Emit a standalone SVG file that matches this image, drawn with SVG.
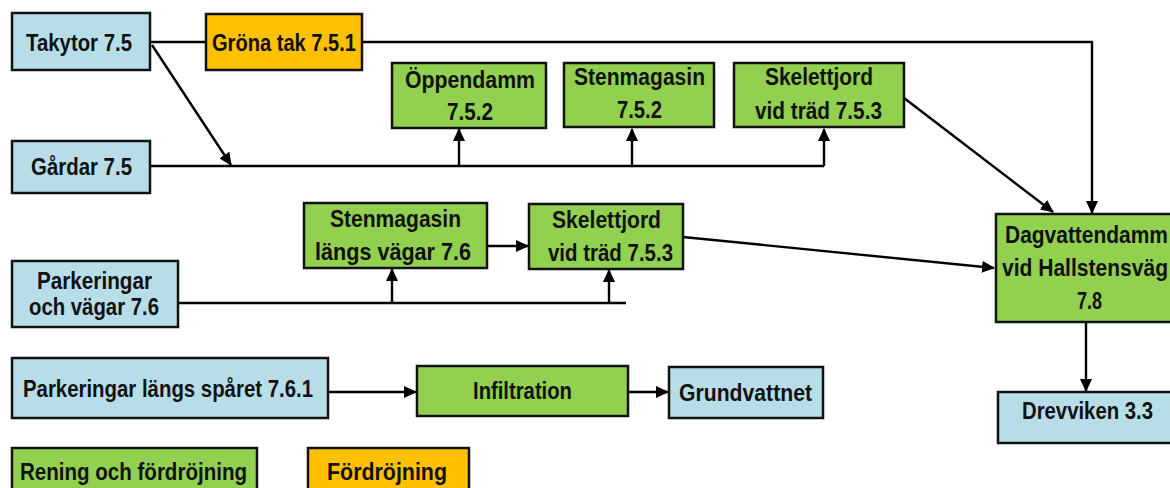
<svg xmlns="http://www.w3.org/2000/svg" width="1170" height="488" viewBox="0 0 1170 488">
<defs>
<marker id="ah" markerWidth="13" markerHeight="12" refX="12" refY="6" orient="auto" markerUnits="userSpaceOnUse">
<path d="M0,0 L13,6 L0,12 Z" fill="#000"/>
</marker>
<style>
.blue{fill:#B7DEE8;stroke:#111;stroke-width:2.5}
.green{fill:#92D050;stroke:#111;stroke-width:2.5}
.orange{fill:#FFC000;stroke:#111;stroke-width:2.5}
text{font-family:"Liberation Sans",Arial,sans-serif;font-weight:bold;font-size:24px;fill:#111}
.c{fill:none;stroke:#000;stroke-width:2.4}
.a{fill:none;stroke:#000;stroke-width:2.4;marker-end:url(#ah)}
</style>
</defs>
<rect width="1170" height="488" fill="#fff"/>
<g id="connectors">
<path class="c" d="M150,42 H206"/>
<path class="a" d="M362,42 H1092 V213"/>
<path class="a" d="M152,45 L231,165"/>
<path class="c" d="M150,166 H824"/>
<path class="a" d="M459,166 V129"/>
<path class="a" d="M632,166 V129"/>
<path class="a" d="M824,166 V129"/>
<path class="a" d="M904,98 L1053,212"/>
<path class="a" d="M487,246 H528"/>
<path class="c" d="M178,303 H626"/>
<path class="a" d="M392,303 V269"/>
<path class="a" d="M609,303 V270"/>
<path class="a" d="M683,237 L994,268"/>
<path class="a" d="M1086,323 V391"/>
<path class="a" d="M328,392 H416"/>
<path class="a" d="M628,392 H668"/>
</g>
<g id="takytor"><rect class="blue" x="12" y="13" width="138" height="57"/><text x="26" y="51" textLength="106" lengthAdjust="spacingAndGlyphs">Takytor 7.5</text></g>
<g id="grona-tak"><rect class="orange" x="206" y="14" width="156" height="56"/><text x="212" y="51" textLength="144" lengthAdjust="spacingAndGlyphs">Gröna tak 7.5.1</text></g>
<g id="gardar"><rect class="blue" x="12" y="141" width="138" height="52"/><text x="31" y="175" textLength="101" lengthAdjust="spacingAndGlyphs">Gårdar 7.5</text></g>
<g id="oppendamm"><rect class="green" x="392" y="63" width="154" height="65"/><text x="405" y="88" textLength="130" lengthAdjust="spacingAndGlyphs">Öppendamm</text><text x="447" y="120" textLength="46" lengthAdjust="spacingAndGlyphs">7.5.2</text></g>
<g id="stenmagasin"><rect class="green" x="564" y="63" width="150" height="64"/><text x="574" y="85" textLength="131" lengthAdjust="spacingAndGlyphs">Stenmagasin</text><text x="617" y="118" textLength="45" lengthAdjust="spacingAndGlyphs">7.5.2</text></g>
<g id="skelettjord-1"><rect class="green" x="734" y="63" width="170" height="64"/><text x="765" y="85" textLength="108" lengthAdjust="spacingAndGlyphs">Skelettjord</text><text x="755" y="119" textLength="127" lengthAdjust="spacingAndGlyphs">vid träd 7.5.3</text></g>
<g id="stenmagasin-vagar"><rect class="green" x="304" y="203" width="183" height="65"/><text x="330" y="227" textLength="131" lengthAdjust="spacingAndGlyphs">Stenmagasin</text><text x="315" y="260" textLength="156" lengthAdjust="spacingAndGlyphs">längs vägar 7.6</text></g>
<g id="skelettjord-2"><rect class="green" x="529" y="204" width="154" height="65"/><text x="552" y="228" textLength="109" lengthAdjust="spacingAndGlyphs">Skelettjord</text><text x="548" y="261" textLength="125" lengthAdjust="spacingAndGlyphs">vid träd 7.5.3</text></g>
<g id="parkeringar-vagar"><rect class="blue" x="12" y="261" width="166" height="66"/><text x="37" y="289" textLength="115" lengthAdjust="spacingAndGlyphs">Parkeringar</text><text x="29" y="315" textLength="130" lengthAdjust="spacingAndGlyphs">och vägar 7.6</text></g>
<g id="dagvattendamm"><rect class="green" x="996" y="214" width="194" height="108"/><text x="1005" y="243" textLength="163" lengthAdjust="spacingAndGlyphs">Dagvattendamm</text><text x="1002" y="276" textLength="166" lengthAdjust="spacingAndGlyphs">vid Hallstensväg</text><text x="1077" y="309" textLength="25" lengthAdjust="spacingAndGlyphs">7.8</text></g>
<g id="drevviken"><rect class="blue" x="998" y="392" width="180" height="51"/><text x="1022" y="419" textLength="131" lengthAdjust="spacingAndGlyphs">Drevviken 3.3</text></g>
<g id="parkeringar-sparet"><rect class="blue" x="12" y="358" width="316" height="60"/><text x="23" y="397" textLength="290" lengthAdjust="spacingAndGlyphs">Parkeringar längs spåret 7.6.1</text></g>
<g id="infiltration"><rect class="green" x="417" y="366" width="211" height="50"/><text x="473" y="399" textLength="99" lengthAdjust="spacingAndGlyphs">Infiltration</text></g>
<g id="grundvattnet"><rect class="blue" x="669" y="367" width="154" height="51"/><text x="679" y="401" textLength="133" lengthAdjust="spacingAndGlyphs">Grundvattnet</text></g>
<g id="legend-rening"><rect class="green" x="12" y="448" width="245" height="50"/><text x="20" y="480" textLength="227" lengthAdjust="spacingAndGlyphs">Rening och fördröjning</text></g>
<g id="legend-fordrojning"><rect class="orange" x="308" y="448" width="161" height="50"/><text x="327" y="480" textLength="120" lengthAdjust="spacingAndGlyphs">Fördröjning</text></g>
</svg>
